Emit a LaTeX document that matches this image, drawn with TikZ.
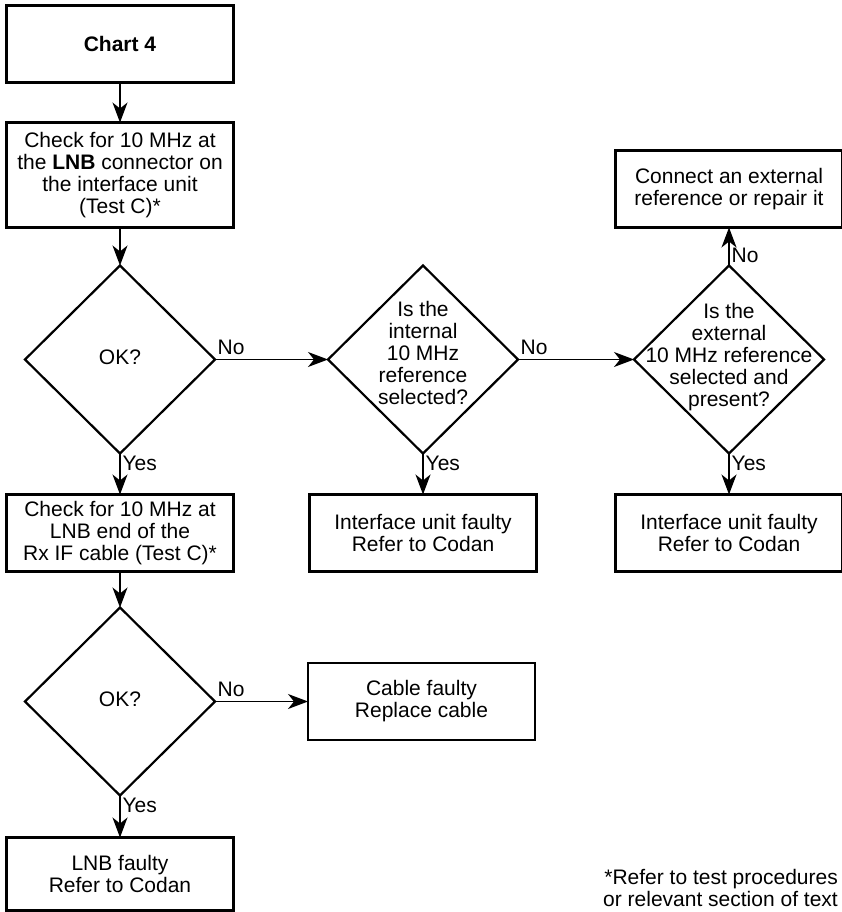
\documentclass[tikz,border=0pt]{standalone}
\usepackage{fontspec}
\setmainfont{Liberation Sans}
\usetikzlibrary{positioning, arrows.meta, shapes.geometric}

\begin{document}
\begin{tikzpicture}[
  x=1pt, y=1pt,
  every node/.style={font=\fontsize{21}{22}\selectfont},
  box/.style={
    rectangle, draw, line width=2.6pt,
    minimum width=227pt, minimum height=77pt,
    align=center, inner sep=0pt, outer sep=0pt
  },
  decision/.style={
    diamond, draw, line width=2.2pt,
    minimum width=190pt, minimum height=188pt,
    inner sep=0pt, outer sep=0pt
  },
  qtext/.style={
    align=center, inner sep=0pt
  },
  lbl/.style={
    inner sep=2pt
  },
  arr/.style={
    -{Stealth[length=20pt, width=15pt, inset=6pt]}, line width=1.3pt
  }
]

\useasboundingbox (0,0) rectangle (841,-912);

% ================= Column 1: Main Checks =================
\node[box] (chart) at (120,-44) {\textbf{Chart 4}};
\node[box, minimum height=105pt, below=40pt of chart] (check1) {Check for 10 MHz at\\the \textbf{LNB} connector on\\the interface unit\\(Test C)*};
\node[decision, below=38pt of check1, label={[qtext, yshift=2pt]center:OK?}] (ok1) {};
\node[box, below=41pt of ok1] (check2) {Check for 10 MHz at\\LNB end of the\\Rx IF cable (Test C)*};
\node[decision, below=36pt of check2, label={[qtext, yshift=2pt]center:OK?}] (ok2) {};
\node[box, minimum height=73pt, below=42pt of ok2] (lnb) {LNB faulty\\Refer to Codan};

% ================= Column 2: Internal Reference =================
\node[decision, right=113pt of ok1, label={[qtext, yshift=7pt]center:Is the\\internal\\10 MHz\\reference\\selected?}] (intref) {};
\node[box, below=41pt of intref] (iface1) {Interface unit faulty\\Refer to Codan};
\node[box, right=93pt of ok2] (cable) {Cable faulty\\Replace cable};

% ================= Column 3: External Reference =================
\node[decision, right=116pt of intref, label={[qtext, yshift=2pt]center:Is the\\external\\10 MHz reference\\selected and\\present?}] (extref) {};
\node[box, above=38pt of extref] (connect) {Connect an external\\reference or repair it};
\node[box, below=41pt of extref] (iface2) {Interface unit faulty\\Refer to Codan};

% ================= Note =================
\node[align=right, inner sep=0pt, anchor=north east] (note) at (838,-869) {*Refer to test procedures\\or relevant section of text};

% ================= Connections =================
\draw[arr] (chart) -- (check1);
\draw[arr] (check1) -- (ok1);
\draw[arr] (ok1.east) -- node[lbl, pos=0, anchor=south west, yshift=2pt] {No} (intref.west);
\draw[arr] (ok1.south) -- node[lbl, pos=0, anchor=north west] {Yes} (check2.north);

\draw[arr] (intref.east) -- node[lbl, pos=0, anchor=south west, yshift=2pt] {No} (extref.west);
\draw[arr] (intref.south) -- node[lbl, pos=0, anchor=north west] {Yes} (iface1.north);

\draw[arr] (extref.north) -- node[lbl, pos=0, anchor=south west] {No} (connect.south);
\draw[arr] (extref.south) -- node[lbl, pos=0, anchor=north west] {Yes} (iface2.north);

\draw[arr] (check2) -- (ok2);
\draw[arr] (ok2.east) -- node[lbl, pos=0, anchor=south west, yshift=2pt] {No} (cable.west);
\draw[arr] (ok2.south) -- node[lbl, pos=0, anchor=north west] {Yes} (lnb.north);

\end{tikzpicture}
\end{document}
